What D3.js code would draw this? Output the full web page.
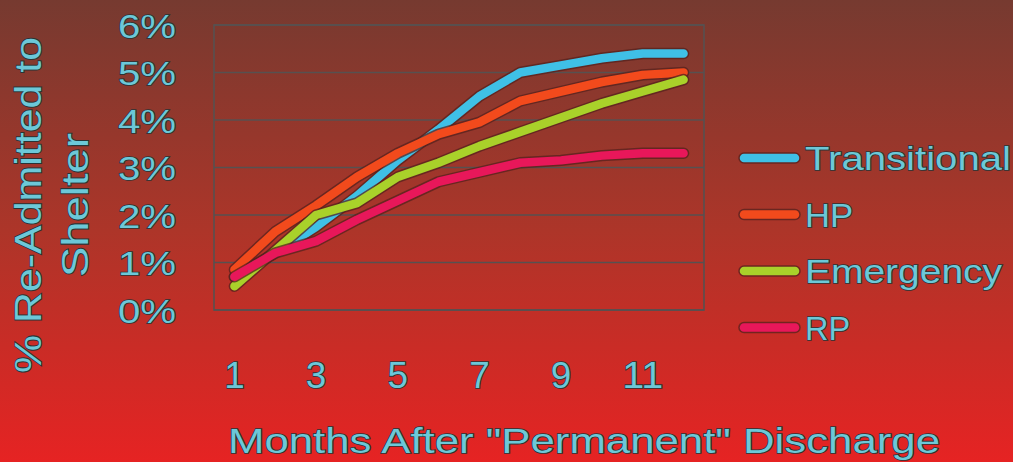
<!DOCTYPE html>
<html>
<head>
<meta charset="utf-8">
<script src="https://cdn.jsdelivr.net/npm/d3@7"></script>
<style>
  html, body { margin: 0; padding: 0; background: #b03328; }
  svg { display: block; }
</style>
</head>
<body>
<svg id="chart" width="1013" height="462"></svg>
<script>
// Months after discharge (1..12)
const months = [1, 2, 3, 4, 5, 6, 7, 8, 9, 10, 11, 12];
const monthTickLabels = ["1", "3", "5", "7", "9", "11"];

// Cumulative share re-admitted to shelter, percent
const transitional = [0.7, 1.2, 1.75, 2.4, 3.15, 3.8, 4.5, 5.0, 5.15, 5.3, 5.4, 5.4];
const hp           = [0.85, 1.65, 2.2, 2.8, 3.3, 3.7, 3.95, 4.4, 4.6, 4.8, 4.95, 5.0];
const emergency    = [0.5, 1.25, 2.0, 2.25, 2.8, 3.1, 3.45, 3.75, 4.05, 4.35, 4.6, 4.85];
const rp           = [0.7, 1.2, 1.45, 1.9, 2.3, 2.7, 2.9, 3.1, 3.15, 3.25, 3.3, 3.3];

const seriesNames = ["Transitional", "HP", "Emergency", "RP"];
const seriesValues = [transitional, hp, emergency, rp];
const seriesColors = ["#3fc0e6", "#f24a1c", "#a9d12a", "#e8175a"];

const yTickValues = [0, 1, 2, 3, 4, 5, 6];

const svg = d3.select("#chart");
const W = 1013, H = 462;

// Background gradient, dark brown at top to bright red at bottom
const defs = svg.append("defs");
const grad = defs.append("linearGradient")
  .attr("id", "bg").attr("x1", 0).attr("y1", 0).attr("x2", 0).attr("y2", 1);
grad.append("stop").attr("offset", "0%").attr("stop-color", "#763a30");
grad.append("stop").attr("offset", "50%").attr("stop-color", "#ad3529");
grad.append("stop").attr("offset", "100%").attr("stop-color", "#e62323");
svg.append("rect").attr("width", W).attr("height", H).attr("fill", "url(#bg)");

const plot = { left: 214, right: 704, top: 25, bottom: 310 };

const x = d3.scaleBand()
  .domain(months)
  .range([plot.left, plot.right])
  .paddingInner(0).paddingOuter(0);
const xc = m => x(m) + x.bandwidth() / 2;

const y = d3.scaleLinear().domain([0, 6]).range([plot.bottom, plot.top]);

const textFill = "#6cc8d8";
const textStroke = "#2a3436";
const textStrokeW = 1.7;
const fontFam = "Liberation Sans, Arial, sans-serif";

// Horizontal gridlines
svg.append("g")
  .selectAll("line")
  .data(yTickValues)
  .join("line")
  .attr("x1", plot.left).attr("x2", plot.right)
  .attr("y1", d => y(d)).attr("y2", d => y(d))
  .attr("stroke", "#575150").attr("stroke-width", 1.6);

// Plot frame
svg.append("rect")
  .attr("x", plot.left).attr("y", plot.top)
  .attr("width", plot.right - plot.left).attr("height", plot.bottom - plot.top)
  .attr("fill", "none").attr("stroke", "#575150").attr("stroke-width", 1.6);

// Y axis labels
const yAxis = d3.axisLeft(y).tickValues(yTickValues).tickFormat(d => d + "%").tickSize(0).tickPadding(0);
const yg = svg.append("g").attr("transform", `translate(${plot.left - 38},0)`).call(yAxis);
yg.select(".domain").remove();
yg.selectAll("text")
  .attr("font-family", fontFam)
  .attr("font-size", 34)
  .attr("fill", textFill).attr("stroke", textStroke).attr("stroke-width", textStrokeW)
  .attr("paint-order", "stroke")
  .attr("dy", "0.36em")
  .attr("textLength", 58).attr("lengthAdjust", "spacingAndGlyphs");

// X axis labels (every other month)
const xAxis = d3.axisBottom(x)
  .tickValues(months.filter(m => monthTickLabels.includes(String(m))))
  .tickSize(0).tickPadding(0);
const xg = svg.append("g").attr("transform", `translate(0,${plot.bottom + 78})`).call(xAxis);
xg.select(".domain").remove();
xg.selectAll("text")
  .attr("font-family", fontFam)
  .attr("font-size", 36)
  .attr("dy", 0)
  .attr("fill", textFill).attr("stroke", textStroke).attr("stroke-width", textStrokeW)
  .attr("paint-order", "stroke")
  .each(function(d) {
    d3.select(this).attr("textLength", String(d).length * 20.5).attr("lengthAdjust", "spacingAndGlyphs");
  });

// Series lines
const line = d3.line()
  .x((d, i) => xc(months[i]))
  .y(d => y(d));

const lines = svg.append("g");
seriesValues.forEach((vals, k) => {
  lines.append("path")
    .attr("d", line(vals))
    .attr("fill", "none")
    .attr("stroke", "#55221e").attr("stroke-opacity", 0.75)
    .attr("stroke-width", 11.5)
    .attr("stroke-linejoin", "round").attr("stroke-linecap", "round");
  lines.append("path")
    .attr("d", line(vals))
    .attr("fill", "none")
    .attr("stroke", seriesColors[k])
    .attr("stroke-width", 8.5)
    .attr("stroke-linejoin", "round").attr("stroke-linecap", "round");
});

// Legend
const legend = svg.append("g");
const legendTop = 158, legendStep = 56.5;
const legendWidths = { "Transitional": 206, "HP": 48, "Emergency": 197, "RP": 45 };
seriesNames.forEach((name, k) => {
  const ly = legendTop + k * legendStep;
  legend.append("line")
    .attr("x1", 744).attr("x2", 795).attr("y1", ly).attr("y2", ly)
    .attr("stroke", "#55221e").attr("stroke-opacity", 0.75)
    .attr("stroke-width", 11.5).attr("stroke-linecap", "round");
  legend.append("line")
    .attr("x1", 744).attr("x2", 795).attr("y1", ly).attr("y2", ly)
    .attr("stroke", seriesColors[k])
    .attr("stroke-width", 8.5).attr("stroke-linecap", "round");
  legend.append("text")
    .attr("x", 805).attr("y", ly + 12)
    .attr("font-family", fontFam)
    .attr("font-size", 34)
    .attr("fill", textFill).attr("stroke", textStroke).attr("stroke-width", textStrokeW)
    .attr("paint-order", "stroke")
    .attr("textLength", legendWidths[name]).attr("lengthAdjust", "spacingAndGlyphs")
    .text(name);
});

// X axis title
svg.append("text")
  .attr("x", 584).attr("y", 453)
  .attr("text-anchor", "middle")
  .attr("font-family", fontFam)
  .attr("font-size", 35)
  .attr("fill", textFill).attr("stroke", textStroke).attr("stroke-width", textStrokeW)
  .attr("paint-order", "stroke")
  .attr("textLength", 712).attr("lengthAdjust", "spacingAndGlyphs")
  .text('Months After "Permanent" Discharge');

// Y axis title (two lines, rotated)
const yTitle = svg.append("text")
  .attr("transform", "translate(0,205) rotate(-90)")
  .attr("text-anchor", "middle")
  .attr("font-family", fontFam)
  .attr("font-size", 36)
  .attr("fill", textFill).attr("stroke", textStroke).attr("stroke-width", textStrokeW)
  .attr("paint-order", "stroke");
yTitle.append("tspan").attr("x", 0).attr("y", 41)
  .attr("textLength", 336).attr("lengthAdjust", "spacingAndGlyphs")
  .text("% Re-Admitted to");
yTitle.append("tspan").attr("x", 0).attr("y", 88)
  .attr("textLength", 144).attr("lengthAdjust", "spacingAndGlyphs")
  .text("Shelter");
</script>
</body>
</html>
